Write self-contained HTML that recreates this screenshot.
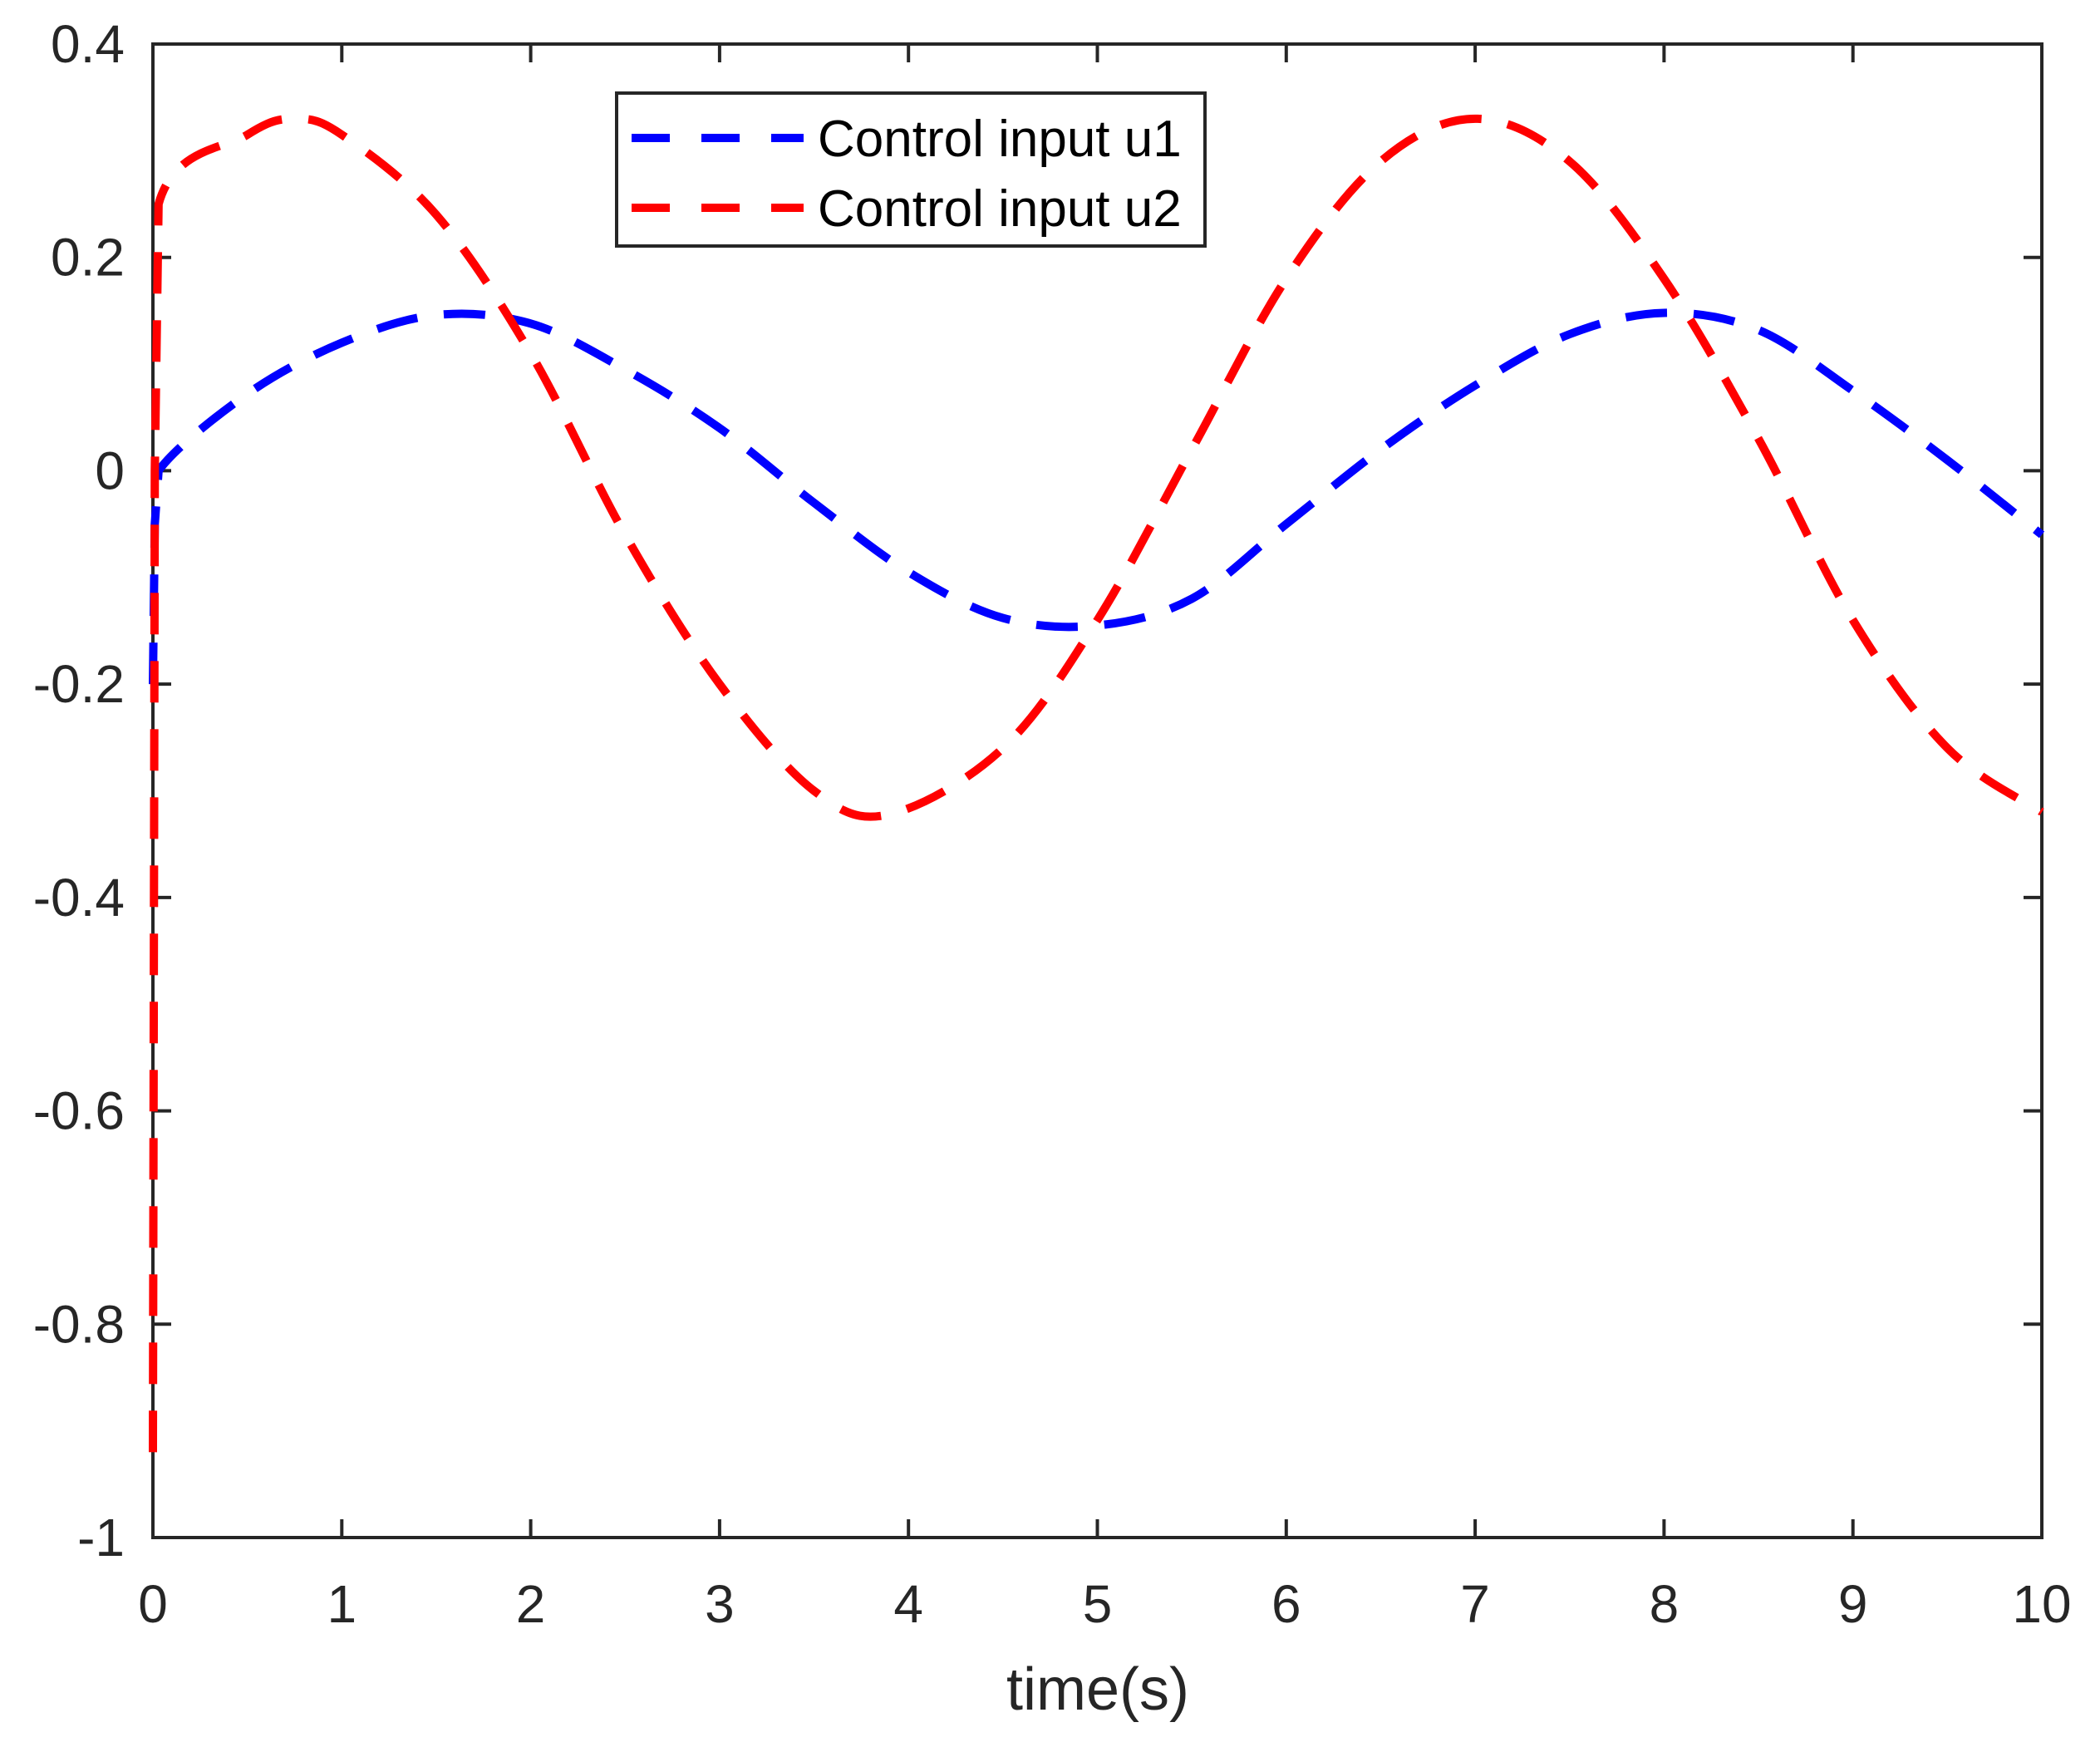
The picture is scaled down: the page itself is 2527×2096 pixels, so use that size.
<!DOCTYPE html>
<html><head><meta charset="utf-8"><style>
html,body{margin:0;padding:0;background:#fff}
svg{display:block}
text{font-family:"Liberation Sans",sans-serif;fill:#262626}
</style></head><body>
<svg id="chart" width="2527" height="2096" viewBox="0 0 2527 2096" xmlns="http://www.w3.org/2000/svg">
<g id="axes"></g>
<g id="series"></g>
<g id="legend">
<rect x="742" y="112" width="708" height="184" fill="#fff" stroke="#262626" stroke-width="4"/>
<line x1="760" y1="166" x2="967" y2="166" stroke="#0000ff" stroke-width="10" stroke-dasharray="46,38"/>
<text x="984" y="188" font-size="62" style="fill:#000">Control input u1</text>
<line x1="760" y1="250" x2="967" y2="250" stroke="#ff0000" stroke-width="10" stroke-dasharray="46,38"/>
<text x="984" y="272" font-size="62" style="fill:#000">Control input u2</text>
</g>
</svg>
<script>
const xTicks=[0,1,2,3,4,5,6,7,8,9,10];
const yTicks=[0.4,0.2,0,-0.2,-0.4,-0.6,-0.8,-1];
const yTickLabels=["0.4","0.2","0","-0.2","-0.4","-0.6","-0.8","-1"];
const t1=[0,0.01,0.03,0.5,1,1.5,2,2.5,3,3.5,4,4.5,5,5.5,6,6.5,7,7.5,8,8.5,9,9.5,10];
const u1=[-0.2,-0.05,0,0.072,0.12,0.146,0.138,0.095,0.04,-0.03,-0.095,-0.138,-0.145,-0.12,-0.05,0.02,0.08,0.128,0.148,0.132,0.075,0.01,-0.06];
const t2=[0,0.01,0.03,0.5,0.75,1,1.5,2,2.5,3,3.5,3.9,4.5,5,5.5,6,6.5,7,7.5,8,8.5,9,9.5,10];
const u2=[-0.92,0.0,0.25,0.315,0.33,0.315,0.24,0.11,-0.06,-0.2,-0.3,-0.322,-0.26,-0.14,0.02,0.18,0.29,0.33,0.29,0.18,0.03,-0.14,-0.26,-0.32];
const L=184,R=2457,T=53,B=1850;
const X=v=>L+(v-0)/(10-0)*(R-L);
const Y=v=>B-(v+1)/(1.4)*(B-T);
const NS="http://www.w3.org/2000/svg";
const axes=document.getElementById('axes');
function mk(tag,attrs,parent){const e=document.createElementNS(NS,tag);for(const k in attrs)e.setAttribute(k,attrs[k]);parent.appendChild(e);return e;}
const box=mk('rect',{x:L,y:T,width:R-L,height:B-T,fill:'none',stroke:'#262626','stroke-width':4},axes);


xTicks.forEach(v=>{
  const x=X(v);
  const tb=mk('path',{d:`M${x},${B}V${B-22}M${x},${T}V${T+22}`,stroke:'#262626','stroke-width':4},axes);
  
  
  const tl=mk('text',{x:x,y:1952,'font-size':64,'text-anchor':'middle'},axes);
  tl.textContent=String(v);
  
  
});
yTicks.forEach((v,i)=>{
  const y=Y(v);
  const tb=mk('path',{d:`M${L},${y}H${L+22}M${R},${y}H${R-22}`,stroke:'#262626','stroke-width':4},axes);
  
  
  const tl=mk('text',{x:150,y:y+22,'font-size':64,'text-anchor':'end'},axes);
  tl.textContent=yTickLabels[i];
  
  
});
const xl=mk('text',{x:1321,y:2057,'font-size':72,'text-anchor':'middle'},axes);
xl.textContent='time(s)';


function pathFor(ts,vs){
  const p=ts.map((t,i)=>[X(t),Y(vs[i])]);
  let d=`M${p[0][0]},${p[0][1]}`;
  for(let i=0;i<p.length-1;i++){
    const p0=p[Math.max(0,i-1)],p1=p[i],p2=p[i+1],p3=p[Math.min(p.length-1,i+2)];
    if(i<2){d+=`L${p2[0]},${p2[1]}`;continue;}
    const c1=[p1[0]+(p2[0]-p0[0])/6,p1[1]+(p2[1]-p0[1])/6];
    const c2=[p2[0]-(p3[0]-p1[0])/6,p2[1]-(p3[1]-p1[1])/6];
    d+=`C${c1[0]},${c1[1]} ${c2[0]},${c2[1]} ${p2[0]},${p2[1]}`;
  }
  return d;
}
const sg=document.getElementById('series');
const s1=mk('path',{d:pathFor(t1,u1),fill:'none',stroke:'#0000ff','stroke-width':10,'stroke-dasharray':'50,32'},sg);


const s2=mk('path',{d:pathFor(t2,u2),fill:'none',stroke:'#ff0000','stroke-width':10,'stroke-dasharray':'50,32'},sg);


</script>
</body></html>
